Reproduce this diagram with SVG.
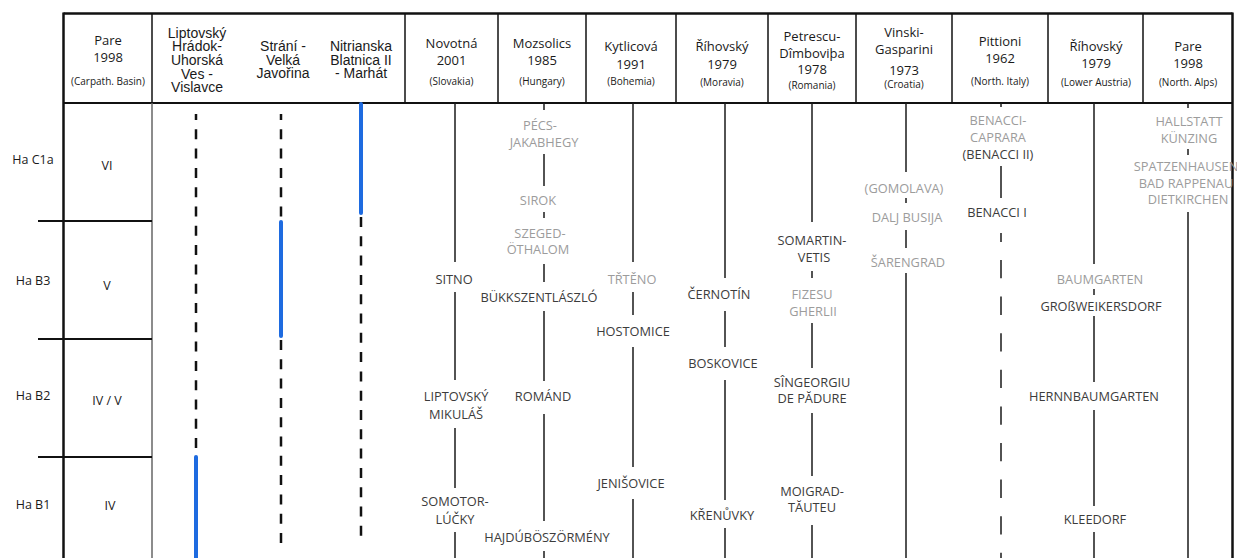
<svg xmlns="http://www.w3.org/2000/svg" width="1237" height="558" viewBox="0 0 1237 558">
<style>
.h{font-family:"Open Sans","Liberation Sans",sans-serif;font-size:13px;fill:#1a1a1a;text-anchor:middle}
.hs{font-family:"Open Sans","Liberation Sans",sans-serif;font-size:10px;fill:#1a1a1a;text-anchor:middle}
.k{font-family:"Liberation Sans","Noto Sans",sans-serif;font-size:14px;fill:#1a1a1a;text-anchor:middle}
.r{font-family:"Open Sans","Liberation Sans",sans-serif;font-size:12.5px;fill:#1a1a1a;text-anchor:middle}
.d{font-family:"Open Sans","Liberation Sans",sans-serif;font-size:12.8px;fill:#3c3c3c;text-anchor:middle}
.g{font-family:"Open Sans","Liberation Sans",sans-serif;font-size:12.8px;fill:#9c9c9c;text-anchor:middle}
.frame{stroke:#111;stroke-width:2.5;fill:none}
.div{stroke:#111;stroke-width:1.5}
.row{stroke:#111;stroke-width:2}
.v{stroke:#1a1a1a;stroke-width:1.5}
.dash{stroke:#111;stroke-width:2.5;stroke-dasharray:10 9.3}
.pd{stroke:#1a1a1a;stroke-width:1.5;stroke-dasharray:18.3 18.3}
.blue{stroke:#1e6be0;stroke-width:4;stroke-linecap:round}
</style>
<rect width="1237" height="558" fill="#fff"/>
<g id="table">
<line class="frame" x1="63.5" y1="13.5" x2="1232.5" y2="13.5"/>
<line class="frame" x1="63.5" y1="12.5" x2="63.5" y2="558"/>
<line class="frame" x1="1232.5" y1="12.5" x2="1232.5" y2="558"/>
<line class="row" x1="63.5" y1="103" x2="1232.5" y2="103"/>
<line class="div" x1="152" y1="13" x2="152" y2="103"/>
<line stroke="#666" stroke-width="1.5" x1="152" y1="103" x2="152" y2="558"/>
<line class="div" x1="405" y1="13" x2="405" y2="103"/>
<line class="div" x1="498" y1="13" x2="498" y2="103"/>
<line class="div" x1="586" y1="13" x2="586" y2="103"/>
<line class="div" x1="676" y1="13" x2="676" y2="103"/>
<line class="div" x1="768" y1="13" x2="768" y2="103"/>
<line class="div" x1="856" y1="13" x2="856" y2="103"/>
<line class="div" x1="952" y1="13" x2="952" y2="103"/>
<line class="div" x1="1048" y1="13" x2="1048" y2="103"/>
<line class="div" x1="1143" y1="13" x2="1143" y2="103"/>
<line class="row" x1="38" y1="221" x2="152" y2="221"/>
<line class="row" x1="38" y1="339" x2="152" y2="339"/>
<line class="row" x1="38" y1="457" x2="152" y2="457"/>
</g>
<g id="header">
<text class="h" x="108" y="45">Pare</text><text class="h" x="108" y="62">1998</text><text class="hs" x="108" y="84.5">(Carpath. Basin)</text>
<text class="k" x="197" y="37.5">Liptovský</text><text class="k" x="197" y="51.2">Hrádok-</text><text class="k" x="197" y="64.9">Uhorská</text><text class="k" x="197" y="78.6">Ves -</text><text class="k" x="197" y="92.3">Vislavce</text>
<text class="k" x="283" y="51">Strání -</text><text class="k" x="283" y="64.7">Velká</text><text class="k" x="283" y="78.4">Javořina</text>
<text class="k" x="361" y="51">Nitrianska</text><text class="k" x="361" y="64.7">Blatnica II</text><text class="k" x="361" y="78.4">- Marhát</text>
<text class="h" x="451.5" y="47.5">Novotná</text><text class="h" x="451.5" y="64.5">2001</text><text class="hs" x="451.5" y="84.5">(Slovakia)</text>
<text class="h" x="542" y="47.5">Mozsolics</text><text class="h" x="542" y="64.5">1985</text><text class="hs" x="542" y="84.5">(Hungary)</text>
<text class="h" x="631" y="51">Kytlicová</text><text class="h" x="631" y="68.5">1991</text><text class="hs" x="631" y="85">(Bohemia)</text>
<text class="h" x="722" y="51">Říhovský</text><text class="h" x="722" y="68.5">1979</text><text class="hs" x="722" y="85.5">(Moravia)</text>
<text class="h" x="812" y="40.5">Petrescu-</text><text class="h" x="812" y="57.5">Dîmboviþa</text><text class="h" x="812" y="74">1978</text><text class="hs" x="812" y="88.5">(Romania)</text>
<text class="h" x="904" y="37">Vinski-</text><text class="h" x="904" y="54">Gasparini</text><text class="h" x="904" y="74.5">1973</text><text class="hs" x="904" y="87.5">(Croatia)</text>
<text class="h" x="1000" y="45.5">Pittioni</text><text class="h" x="1000" y="62.5">1962</text><text class="hs" x="1000" y="84.5">(North. Italy)</text>
<text class="h" x="1096" y="50.5">Říhovský</text><text class="h" x="1096" y="67.5">1979</text><text class="hs" x="1096" y="85.5">(Lower Austria)</text>
<text class="h" x="1188" y="50.5">Pare</text><text class="h" x="1188" y="67.5">1998</text><text class="hs" x="1188" y="85.5">(North. Alps)</text>
</g>
<g id="phases">
<text class="r" x="33" y="163.5">Ha C1a</text><text class="r" x="107" y="169.5">VI</text>
<text class="r" x="33" y="284.5">Ha B3</text><text class="r" x="107" y="289.5">V</text>
<text class="r" x="33" y="399.5">Ha B2</text><text class="r" x="107" y="404.5">IV / V</text>
<text class="r" x="33" y="508.5">Ha B1</text><text class="r" x="110" y="509.5">IV</text>
</g>
<g id="connectors">
<line class="dash" x1="196" y1="114" x2="196" y2="454" stroke-dashoffset="4"/>
<line class="blue" x1="196" y1="457" x2="196" y2="558"/>
<line class="dash" x1="281" y1="114" x2="281" y2="219" stroke-dashoffset="4"/>
<line class="blue" x1="281" y1="222" x2="281" y2="336"/>
<line class="dash" x1="281" y1="340" x2="281" y2="545"/>
<line class="blue" x1="361" y1="104" x2="361" y2="213"/>
<line class="dash" x1="361" y1="217" x2="361" y2="545"/>
<line class="v" x1="455" y1="103" x2="455" y2="262"/><line class="v" x1="455" y1="292" x2="455" y2="380"/><line class="v" x1="455" y1="428" x2="455" y2="488"/><line class="v" x1="455" y1="532" x2="455" y2="558"/>
<line class="v" x1="544" y1="103" x2="544" y2="110"/><line class="v" x1="544" y1="154" x2="544" y2="186"/><line class="v" x1="544" y1="212" x2="544" y2="218"/><line class="v" x1="544" y1="264" x2="544" y2="282"/><line class="v" x1="544" y1="311" x2="544" y2="381"/><line class="v" x1="544" y1="414" x2="544" y2="521"/><line class="v" x1="544" y1="551" x2="544" y2="558"/>
<line class="v" x1="633" y1="103" x2="633" y2="262"/><line class="v" x1="633" y1="292" x2="633" y2="315"/><line class="v" x1="633" y1="347" x2="633" y2="467"/><line class="v" x1="633" y1="499" x2="633" y2="558"/>
<line class="v" x1="725" y1="103" x2="725" y2="278"/><line class="v" x1="725" y1="311" x2="725" y2="347"/><line class="v" x1="725" y1="380" x2="725" y2="500"/><line class="v" x1="725" y1="528" x2="725" y2="558"/>
<line class="v" x1="812" y1="103" x2="812" y2="222"/><line class="v" x1="812" y1="271" x2="812" y2="278"/><line class="v" x1="812" y1="323" x2="812" y2="368"/><line class="v" x1="812" y1="413" x2="812" y2="476"/><line class="v" x1="812" y1="525" x2="812" y2="558"/>
<line class="v" x1="906" y1="103" x2="906" y2="172"/><line class="v" x1="906" y1="198" x2="906" y2="203"/><line class="v" x1="906" y1="230" x2="906" y2="248"/><line class="v" x1="906" y1="273" x2="906" y2="558"/>
<line class="v" x1="1001" y1="103" x2="1001" y2="107"/><line class="v" x1="1001" y1="166" x2="1001" y2="198"/><line class="v" x1="1001" y1="233" x2="1001" y2="242"/><line class="pd" x1="1001" y1="260" x2="1001" y2="558"/>
<line class="v" x1="1094" y1="103" x2="1094" y2="264"/><line class="v" x1="1094" y1="289" x2="1094" y2="295"/><line class="v" x1="1094" y1="316" x2="1094" y2="382"/><line class="v" x1="1094" y1="410" x2="1094" y2="506"/><line class="v" x1="1094" y1="532" x2="1094" y2="558"/>
<line class="v" x1="1188" y1="103" x2="1188" y2="108"/><line class="v" x1="1188" y1="149" x2="1188" y2="155"/><line class="v" x1="1188" y1="212" x2="1188" y2="558"/>
</g>
<g id="novotna">
<text class="d" x="454" y="283.6">SITNO</text>
<text class="d" x="456" y="401.3">LIPTOVSKÝ</text><text class="d" x="456" y="418.6">MIKULÁŠ</text>
<text class="d" x="455" y="506.3">SOMOTOR-</text><text class="d" x="455" y="523.6">LÚČKY</text>
</g>
<g id="mozsolics">
<text class="g" x="540" y="129.6">PÉCS-</text><text class="g" x="544" y="146.6">JAKABHEGY</text>
<text class="g" x="538" y="204.6">SIROK</text>
<text class="g" x="540" y="237.6">SZEGED-</text><text class="g" x="538" y="253.6">ÖTHALOM</text>
<text class="d" x="539" y="301.6">BÜKKSZENTLÁSZLÓ</text>
<text class="d" x="543" y="400.6">ROMÁND</text>
<text class="d" x="547" y="541.6">HAJDÚBÖSZÖRMÉNY</text>
</g>
<g id="kytlicova">
<text class="g" x="632" y="283.6">TŘTĚNO</text>
<text class="d" x="633" y="335.6">HOSTOMICE</text>
<text class="d" x="631" y="487.6">JENIŠOVICE</text>
</g>
<g id="rihovsky-moravia">
<text class="d" x="719" y="298.6">ČERNOTÍN</text>
<text class="d" x="723" y="367.6">BOSKOVICE</text>
<text class="d" x="722" y="519.6">KŘENŮVKY</text>
</g>
<g id="petrescu">
<text class="d" x="812" y="244.6">SOMARTIN-</text><text class="d" x="814" y="261.6">VETIS</text>
<text class="g" x="812" y="298.6">FIZESU</text><text class="g" x="813" y="315.6">GHERLII</text>
<text class="d" x="812" y="386.6">SÎNGEORGIU</text><text class="d" x="812" y="402.6">DE PĂDURE</text>
<text class="d" x="812" y="495.6">MOIGRAD-</text><text class="d" x="812" y="511.6">TĂUTEU</text>
</g>
<g id="vinski">
<text class="g" x="904" y="192.6">(GOMOLAVA)</text>
<text class="g" x="907" y="221.6">DALJ BUSIJA</text>
<text class="g" x="908" y="266.6">ŠARENGRAD</text>
</g>
<g id="pittioni">
<text class="g" x="998" y="124.6">BENACCI-</text><text class="g" x="998" y="141.6">CAPRARA</text>
<text class="d" x="998" y="158.6">(BENACCI II)</text>
<text class="d" x="997" y="216.6">BENACCI I</text>
</g>
<g id="rihovsky-austria">
<text class="g" x="1100" y="283.6">BAUMGARTEN</text>
<text class="d" x="1101" y="310.6">GROßWEIKERSDORF</text>
<text class="d" x="1094" y="400.6">HERNNBAUMGARTEN</text>
<text class="d" x="1095" y="523.6">KLEEDORF</text>
</g>
<g id="pare-alps">
<text class="g" x="1189" y="125.6">HALLSTATT</text><text class="g" x="1189" y="142.6">KÜNZING</text>
<text class="g" x="1186" y="170.6">SPATZENHAUSEN</text><text class="g" x="1186" y="187.6">BAD RAPPENAU</text><text class="g" x="1188" y="203.6">DIETKIRCHEN</text>
</g>
</svg>
